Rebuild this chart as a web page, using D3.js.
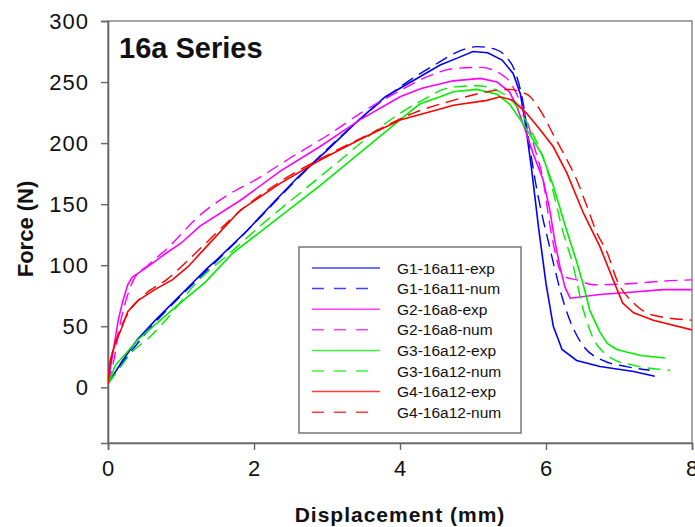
<!DOCTYPE html>
<html>
<head>
<meta charset="utf-8">
<script src="https://cdn.jsdelivr.net/npm/d3@7"></script>
<style>
    body { margin: 0; background: #fff; }
    text { font-family: "Liberation Sans", Arial, sans-serif; fill: #111; }
</style>
</head>
<body>
<div id="chart"></div>
<script>
// [displacement (mm), force (N)]
const g1Exp = [[0,3],[0.2,22],[0.4,39],[0.65,55],[0.9,70],[1.1,82],[1.35,97],[1.5,105],[1.9,128],[2.26,151],[2.6,172],[3.0,194],[3.4,217],[3.8,238],[4.55,264],[4.8,270],[5.0,275],[5.2,274],[5.4,268],[5.55,257],[5.65,240],[5.72,215],[5.8,180],[5.9,130],[6.0,85],[6.1,50],[6.22,31],[6.42,22],[6.74,17],[7.2,13],[7.49,9]];
const g1Num = [[0,3],[0.3,28],[0.6,50],[1.0,75],[1.5,104],[2.0,134],[2.5,165],[3.0,195],[3.5,222],[4.0,246],[4.5,265],[4.8,275],[5.05,279],[5.3,277],[5.45,271],[5.58,258],[5.68,235],[5.77,200],[5.85,170],[5.95,140],[6.03,120],[6.12,97],[6.22,74],[6.36,50],[6.51,34],[6.78,22],[7.1,17],[7.42,14]];
const g2Exp = [[0,3],[0.05,22],[0.14,55],[0.2,70],[0.27,84],[0.33,90],[0.55,99],[0.8,110],[1.0,118],[1.26,132],[1.81,153],[2.36,177],[2.9,197],[3.45,219],[4.0,238],[4.3,245],[4.73,251],[5.1,253],[5.33,250],[5.5,242],[5.6,230],[5.72,210],[5.82,192],[5.96,170],[6.05,146],[6.12,120],[6.19,99],[6.26,82],[6.33,73],[6.74,76],[7.2,78],[7.6,80],[8.0,80]];
const g2Num = [[0,3],[0.08,22],[0.16,50],[0.25,72],[0.35,88],[0.55,100],[0.8,113],[1.26,141],[1.6,156],[2.08,172],[2.5,188],[3.0,206],[3.5,226],[4.0,243],[4.4,255],[4.73,261],[5.1,262],[5.37,257],[5.48,252],[5.6,240],[5.72,222],[5.85,195],[5.96,170],[6.05,134],[6.12,112],[6.19,96],[6.28,90],[6.42,88],[6.65,84],[7.2,85],[7.6,87],[8.0,88]];
const g3Exp = [[0,3],[0.1,18],[0.41,39],[0.87,63],[1.33,86],[1.71,110],[2.36,140],[2.9,165],[3.45,192],[4.0,219],[4.27,232],[4.55,238],[4.73,242],[5.05,244],[5.33,240],[5.5,232],[5.64,220],[5.8,205],[5.95,190],[6.1,165],[6.28,129],[6.42,103],[6.52,82],[6.6,63],[6.74,45],[6.84,36],[6.97,31],[7.1,29],[7.3,26],[7.63,24]];
const g3Num = [[0,3],[0.15,15],[0.33,29],[0.55,40],[0.82,57],[1.2,85],[1.67,110],[2.18,137],[2.63,159],[3.18,186],[3.73,213],[4.27,234],[4.73,246],[5.05,247],[5.37,242],[5.6,230],[5.78,212],[5.96,188],[6.1,160],[6.22,130],[6.37,100],[6.5,66],[6.64,41],[6.8,28],[6.92,23],[7.2,18],[7.7,14]];
const g4Exp = [[0,3],[0.03,22],[0.1,36],[0.19,49],[0.27,62],[0.41,71],[0.64,80],[0.88,88],[1.1,99],[1.33,114],[1.81,145],[2.36,167],[2.9,186],[3.45,203],[4.0,219],[4.55,228],[4.73,231],[5.19,235],[5.37,238],[5.55,235],[5.74,224],[5.92,211],[6.1,197],[6.29,175],[6.51,143],[6.74,115],[6.92,88],[7.05,69],[7.2,61],[7.47,55],[8.0,47]];
const g4Num = [[0,3],[0.05,25],[0.15,45],[0.3,63],[0.5,76],[0.8,88],[1.2,110],[1.8,144],[2.4,170],[3.0,190],[3.6,208],[4.2,225],[4.73,235],[5.19,242],[5.47,244],[5.74,240],[5.92,227],[6.1,207],[6.29,186],[6.42,170],[6.55,150],[6.7,126],[6.84,110],[6.97,88],[7.2,69],[7.47,59],[8.0,55]];

const seriesNames = ["G1-16a11-exp", "G1-16a11-num", "G2-16a8-exp", "G2-16a8-num", "G3-16a12-exp", "G3-16a12-num", "G4-16a12-exp", "G4-16a12-num"];
const seriesData = [g1Exp, g1Num, g2Exp, g2Num, g3Exp, g3Num, g4Exp, g4Num];
const xTicks = [0, 2, 4, 6, 8];
const yTicks = [0, 50, 100, 150, 200, 250, 300];

const colors = ["#0000ff", "#0000ff", "#ff00ff", "#ff00ff", "#00ee00", "#00ee00", "#ff0000", "#ff0000"];

const width = 695, height = 527;
const margin = { top: 21, right: 3, bottom: 84, left: 108 };
const plotW = width - margin.left - margin.right;
const plotH = height - margin.top - margin.bottom;

const svg = d3.select("#chart")
    .append("svg")
    .attr("width", width)
    .attr("height", height);

const g = svg.append("g")
    .attr("transform", `translate(${margin.left},${margin.top})`);

// scales
const xScale = d3.scaleLinear().domain([0, 8]).range([0, plotW]);
const yScale = d3.scaleLinear().domain([-45.6, 300]).range([plotH, 0]);

g.append("clipPath").attr("id", "clip")
    .append("rect").attr("width", plotW).attr("height", plotH);

// frame on top/right
g.append("rect")
    .attr("width", plotW).attr("height", plotH)
    .attr("fill", "none").attr("stroke", "#777").attr("stroke-width", 1.3);

// axes
const xAxis = g.append("g")
    .attr("transform", `translate(0,${plotH})`)
    .call(d3.axisBottom(xScale).tickValues(xTicks).tickSize(7).tickPadding(10).tickFormat(d3.format("d")));
const yAxis = g.append("g")
    .call(d3.axisLeft(yScale).tickValues(yTicks).tickSize(7).tickPadding(12).tickFormat(d3.format("d")));

[xAxis, yAxis].forEach((ax) => {
    ax.select(".domain").attr("stroke", "#666").attr("stroke-width", 1.6);
    ax.selectAll(".tick line").attr("stroke", "#666").attr("stroke-width", 1.4);
    ax.selectAll(".tick text")
        .style("font-size", "22px")
        .style("letter-spacing", "1px")
        .attr("fill", "#111");
});

// lines
const line = d3.line()
    .x((d) => xScale(d[0]))
    .y((d) => yScale(d[1]));
const smooth = d3.line()
    .curve(d3.curveMonotoneX)
    .x((d) => xScale(d[0]))
    .y((d) => yScale(d[1]));

const lines = g.append("g").attr("clip-path", "url(#clip)");
seriesData.forEach((data, i) => {
    const dashed = i % 2 === 1;
    lines.append("path")
        .datum(data)
        .attr("fill", "none")
        .attr("stroke", colors[i])
        .attr("stroke-width", dashed ? 1.4 : 1.6)
        .attr("stroke-dasharray", dashed ? "13,7" : null)
        .attr("d", dashed ? smooth : line);
});

// title inside plot
g.append("text")
    .attr("x", 11)
    .attr("y", 37)
    .style("font-size", "29px")
    .style("font-weight", "bold")
    .text("16a Series");

// axis titles
svg.append("text")
    .attr("x", margin.left + plotW / 2)
    .attr("y", 522)
    .attr("text-anchor", "middle")
    .style("font-size", "21px")
    .style("font-weight", "bold")
    .style("letter-spacing", "1px")
    .text("Displacement (mm)");

svg.append("text")
    .attr("transform", "translate(33,229) rotate(-90)")
    .attr("text-anchor", "middle")
    .style("font-size", "22px")
    .style("font-weight", "bold")
    .text("Force (N)");

// legend
const legend = svg.append("g").attr("transform", "translate(299,247)");
legend.append("rect")
    .attr("width", 222).attr("height", 186)
    .attr("fill", "#fff").attr("stroke", "#777").attr("stroke-width", 1.5);

seriesNames.forEach((name, i) => {
    const item = legend.append("g")
        .attr("transform", `translate(0, ${21 + i * 20.6})`);
    const dashed = i % 2 === 1;
    item.append("line")
        .attr("x1", 13).attr("x2", dashed ? 74 : 81)
        .attr("stroke", colors[i])
        .attr("stroke-opacity", 0.75)
        .attr("stroke-width", 1.5)
        .attr("stroke-dasharray", dashed ? "12,10" : null);
    item.append("text")
        .attr("x", 98)
        .attr("y", 5.5)
        .style("font-size", "15.5px")
        .text(name);
});
</script>
</body>
</html>
